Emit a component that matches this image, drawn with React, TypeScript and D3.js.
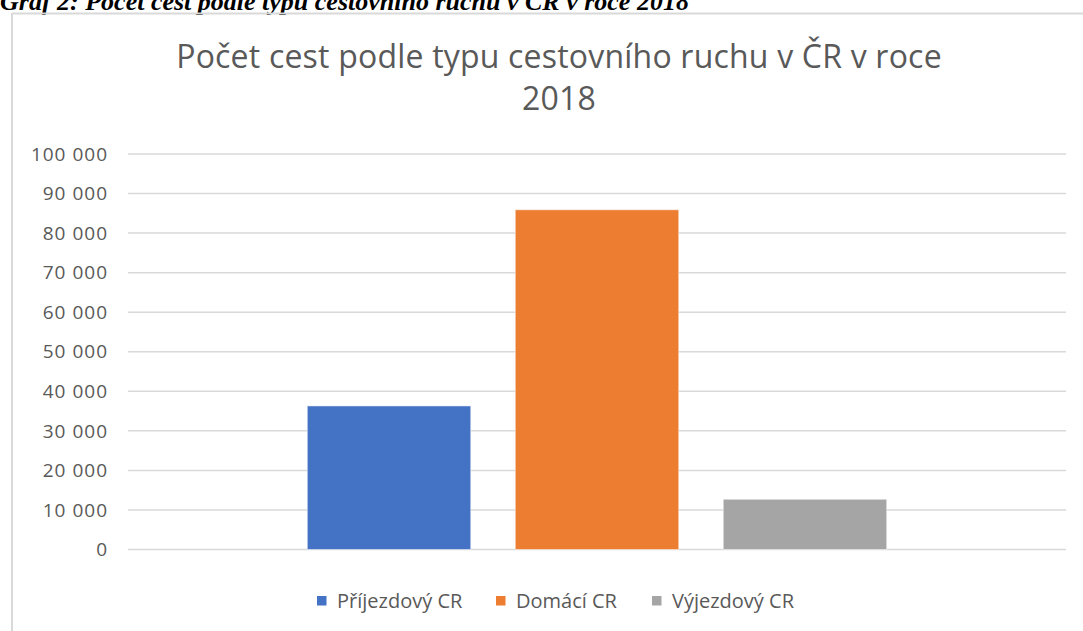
import React from 'react';
import * as d3 from 'd3';

const series = ['Příjezdový CR', 'Domácí CR', 'Výjezdový CR'];
const values = [36300, 85900, 12700];
const colors = ['#4472C4', '#ED7D31', '#A5A5A5'];
const yTicks = [0, 10000, 20000, 30000, 40000, 50000, 60000, 70000, 80000, 90000, 100000];
const titleLines = ['Počet cest podle typu cestovního ruchu v ČR v roce', '2018'];
const caption = 'Graf 2: Počet cest podle typu cestovního ruchu v ČR v roce 2018';

const width = 1083;
const height = 631;
const plot = { left: 128, right: 1066, top: 154, bottom: 549.5 };
const font = '"Open Sans", "Noto Sans", sans-serif';

function App() {
  const y = d3.scaleLinear().domain([0, 100000]).range([plot.bottom, plot.top]);
  const x = d3
    .scaleBand<string>()
    .domain(series)
    .range([plot.left, plot.right])
    .paddingInner(0.214)
    .paddingOuter(0.862);
  const fmt = (v: number) => d3.format(',')(v).replace(/,/g, ' ');

  // legend positions (marker x, text x)
  const legendX = [317, 496, 652];

  return (
    <div style={{ position: 'absolute', left: 0, top: 0 }}>
      <svg width={width} height={height} style={{ display: 'block', background: '#fff' }}>
        <text
          x={0}
          y={10}
          fontFamily='"Liberation Serif", "Times New Roman", serif'
          fontWeight="bold"
          fontStyle="italic"
          fontSize={26}
          fill="#000"
        >
          {caption}
        </text>
        {/* chart frame */}
        <line x1={12} x2={width} y1={13.5} y2={13.5} stroke="#d9d9d9" strokeWidth={2} />
        <line x1={12} x2={12} y1={13} y2={height} stroke="#d9d9d9" strokeWidth={2} />

        {titleLines.map((t, i) => (
          <text
            key={t}
            x={559}
            y={68 + i * 42}
            textAnchor="middle"
            fontFamily={font}
            fontSize={32}
            letterSpacing={0.2}
            fill="#595959"
          >
            {t}
          </text>
        ))}

        {yTicks.map((t) => (
          <g key={t}>
            <line x1={plot.left} x2={plot.right} y1={y(t)} y2={y(t)} stroke="#d9d9d9" strokeWidth={1.5} />
            <text
              x={108}
              y={y(t)}
              dy="0.35em"
              textAnchor="end"
              fontFamily={font}
              fontSize={19}
              letterSpacing={1}
              fill="#595959"
            >
              {fmt(t)}
            </text>
          </g>
        ))}

        {series.map((s, i) => (
          <rect
            key={s}
            x={x(s)}
            width={x.bandwidth()}
            y={y(values[i])}
            height={y(0) - y(values[i])}
            fill={colors[i]}
            stroke="#ffffff"
            strokeOpacity={0.5}
            strokeWidth={1}
          />
        ))}

        {series.map((s, i) => (
          <g key={s} transform={`translate(${legendX[i]},601)`}>
            <rect x={0} y={-5} width={9.5} height={9.5} fill={colors[i]} />
            <text x={20} y={0} dy="0.35em" fontFamily={font} fontSize={20} fill="#595959">
              {s}
            </text>
          </g>
        ))}
      </svg>
    </div>
  );
}

export default App;
